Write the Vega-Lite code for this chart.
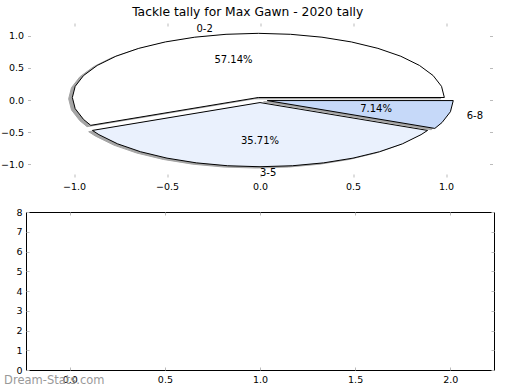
{
  "$schema": "https://vega.github.io/schema/vega-lite/v6.json",
  "padding": {"left": 0, "top": 6, "right": 0, "bottom": 0},
  "title": {"text": "Tackle tally for Max Gawn - 2020 tally", "font": "DejaVu Sans", "fontSize": 12.3, "fontWeight": "normal", "anchor": "middle", "offset": 4, "color": "black"},
  "bounds": "flush",
  "center": true,
  "spacing": 35,
  "datasets": {
    "pie": [
      {"w": "0-2", "i": 0, "x": -0.0089, "y": 0.039},
      {"w": "0-2", "i": 1, "x": 0.9911, "y": 0.039},
      {"w": "0-2", "i": 2, "x": 0.9759, "y": 0.2127},
      {"w": "0-2", "i": 3, "x": 0.9308, "y": 0.381},
      {"w": "0-2", "i": 4, "x": 0.8571, "y": 0.539},
      {"w": "0-2", "i": 5, "x": 0.7571, "y": 0.6818},
      {"w": "0-2", "i": 6, "x": 0.6339, "y": 0.805},
      {"w": "0-2", "i": 7, "x": 0.4911, "y": 0.905},
      {"w": "0-2", "i": 8, "x": 0.3331, "y": 0.9787},
      {"w": "0-2", "i": 9, "x": 0.1648, "y": 1.0238},
      {"w": "0-2", "i": 10, "x": -0.0089, "y": 1.039},
      {"w": "0-2", "i": 11, "x": -0.1826, "y": 1.0238},
      {"w": "0-2", "i": 12, "x": -0.3509, "y": 0.9787},
      {"w": "0-2", "i": 13, "x": -0.5089, "y": 0.905},
      {"w": "0-2", "i": 14, "x": -0.6517, "y": 0.805},
      {"w": "0-2", "i": 15, "x": -0.7749, "y": 0.6818},
      {"w": "0-2", "i": 16, "x": -0.8749, "y": 0.539},
      {"w": "0-2", "i": 17, "x": -0.9486, "y": 0.381},
      {"w": "0-2", "i": 18, "x": -0.9937, "y": 0.2127},
      {"w": "0-2", "i": 19, "x": -1.0089, "y": 0.039},
      {"w": "0-2", "i": 20, "x": -0.9937, "y": -0.1347},
      {"w": "0-2", "i": 21, "x": -0.9486, "y": -0.303},
      {"w": "0-2", "i": 22, "x": -0.9099, "y": -0.3949},
      {"w": "0-2", "i": 23, "x": -0.0089, "y": 0.039},
      {"w": "3-5", "i": 0, "x": 0, "y": -0.04},
      {"w": "3-5", "i": 1, "x": -0.901, "y": -0.4739},
      {"w": "3-5", "i": 2, "x": -0.866, "y": -0.54},
      {"w": "3-5", "i": 3, "x": -0.766, "y": -0.6828},
      {"w": "3-5", "i": 4, "x": -0.6428, "y": -0.806},
      {"w": "3-5", "i": 5, "x": -0.5, "y": -0.906},
      {"w": "3-5", "i": 6, "x": -0.342, "y": -0.9797},
      {"w": "3-5", "i": 7, "x": -0.1737, "y": -1.0248},
      {"w": "3-5", "i": 8, "x": 0, "y": -1.04},
      {"w": "3-5", "i": 9, "x": 0.1737, "y": -1.0248},
      {"w": "3-5", "i": 10, "x": 0.342, "y": -0.9797},
      {"w": "3-5", "i": 11, "x": 0.5, "y": -0.906},
      {"w": "3-5", "i": 12, "x": 0.6428, "y": -0.806},
      {"w": "3-5", "i": 13, "x": 0.766, "y": -0.6828},
      {"w": "3-5", "i": 14, "x": 0.866, "y": -0.54},
      {"w": "3-5", "i": 15, "x": 0.901, "y": -0.4739},
      {"w": "3-5", "i": 16, "x": 0, "y": -0.04},
      {"w": "6-8", "i": 0, "x": 0.039, "y": -0.0089},
      {"w": "6-8", "i": 1, "x": 0.94, "y": -0.4428},
      {"w": "6-8", "i": 2, "x": 0.9787, "y": -0.3509},
      {"w": "6-8", "i": 3, "x": 1.0238, "y": -0.1826},
      {"w": "6-8", "i": 4, "x": 1.039, "y": -0.0089},
      {"w": "6-8", "i": 5, "x": 0.039, "y": -0.0089}
    ],
    "labelsRight": [{"t": "0-2", "x": -0.2537, "y": 1.1114}],
    "labelsLeft": [{"t": "3-5", "x": 0, "y": -1.14}, {"t": "6-8", "x": 1.1114, "y": -0.2537}],
    "pct": [{"t": "57.14%", "x": -0.1424, "y": 0.6239}, {"t": "35.71%", "x": 0, "y": -0.64}, {"t": "7.14%", "x": 0.6239, "y": -0.1424}],
    "mark": [{"t": "Dream-Stats.com", "x": -0.345, "y": -0.557}]
  },
  "vconcat": [
    {
      "width": 465,
      "height": 154,
      "layer": [
        {
          "data": {"name": "pie"},
          "mark": {"type": "line", "fill": "#4d4d4d", "stroke": "#4d4d4d", "strokeWidth": 1, "opacity": 0.5, "xOffset": -3.7, "yOffset": 1.3},
          "encoding": {
            "x": {"field": "x", "type": "quantitative", "title": null, "scale": {"domain": [-1.25, 1.25], "nice": false, "zero": false}, "axis": {"orient": "bottom", "values": [-1, -0.5, 0, 0.5, 1], "format": ".1f"}},
            "y": {"field": "y", "type": "quantitative", "title": null, "scale": {"domain": [-1.2, 1.2], "nice": false, "zero": false}, "axis": {"orient": "left", "values": [-1, -0.5, 0, 0.5, 1], "format": ".1f"}},
            "order": {"field": "i", "type": "quantitative"},
            "detail": {"field": "w", "type": "nominal"}
          }
        },
        {
          "data": {"name": "pie"},
          "mark": {"type": "line", "stroke": "black", "strokeWidth": 1},
          "encoding": {
            "x": {"field": "x", "type": "quantitative", "title": null, "scale": {"domain": [-1.25, 1.25], "nice": false, "zero": false}, "axis": null},
            "y": {"field": "y", "type": "quantitative", "title": null, "scale": {"domain": [-1.2, 1.2], "nice": false, "zero": false}, "axis": null},
            "order": {"field": "i", "type": "quantitative"},
            "detail": {"field": "w", "type": "nominal"},
            "fill": {"field": "w", "type": "nominal", "legend": null, "scale": {"domain": ["0-2", "3-5", "6-8"], "range": ["#ffffff", "#eaf1fd", "#c6d9f9"]}}
          }
        },
        {
          "data": {"name": "labelsRight"},
          "mark": {"type": "text", "align": "right", "baseline": "middle", "font": "DejaVu Sans", "fontSize": 10, "color": "black"},
          "encoding": {
            "x": {"field": "x", "type": "quantitative", "title": null, "scale": {"domain": [-1.25, 1.25], "nice": false, "zero": false}, "axis": {"orient": "top", "labels": false, "values": [-1, -0.5, 0, 0.5, 1]}},
            "y": {"field": "y", "type": "quantitative", "title": null, "scale": {"domain": [-1.2, 1.2], "nice": false, "zero": false}, "axis": {"orient": "right", "labels": false, "values": [-1, -0.5, 0, 0.5, 1]}},
            "text": {"field": "t"}
          }
        },
        {
          "data": {"name": "labelsLeft"},
          "mark": {"type": "text", "align": "left", "baseline": "middle", "font": "DejaVu Sans", "fontSize": 10, "color": "black"},
          "encoding": {
            "x": {"field": "x", "type": "quantitative", "title": null, "scale": {"domain": [-1.25, 1.25], "nice": false, "zero": false}, "axis": null},
            "y": {"field": "y", "type": "quantitative", "title": null, "scale": {"domain": [-1.2, 1.2], "nice": false, "zero": false}, "axis": null},
            "text": {"field": "t"}
          }
        },
        {
          "data": {"name": "pct"},
          "mark": {"type": "text", "align": "center", "baseline": "middle", "font": "DejaVu Sans", "fontSize": 10, "color": "black"},
          "encoding": {
            "x": {"field": "x", "type": "quantitative", "title": null, "scale": {"domain": [-1.25, 1.25], "nice": false, "zero": false}, "axis": null},
            "y": {"field": "y", "type": "quantitative", "title": null, "scale": {"domain": [-1.2, 1.2], "nice": false, "zero": false}, "axis": null},
            "text": {"field": "t"}
          }
        }
      ],
      "resolve": {"axis": {"x": "independent", "y": "independent"}}
    },
    {
      "width": 468,
      "height": 158,
      "view": {"stroke": "black", "strokeWidth": 1},
      "layer": [
        {
          "data": {"name": "mark"},
          "mark": {"type": "text", "align": "left", "baseline": "middle", "font": "DejaVu Sans", "fontSize": 11.5, "color": "#999999"},
          "encoding": {
            "x": {"field": "x", "type": "quantitative", "title": null, "scale": {"domain": [-0.23, 2.23], "nice": false, "zero": false}, "axis": {"orient": "bottom", "values": [0, 0.5, 1, 1.5, 2], "format": ".1f"}},
            "y": {"field": "y", "type": "quantitative", "title": null, "scale": {"domain": [0, 8], "nice": false, "zero": false}, "axis": {"orient": "left", "values": [0, 1, 2, 3, 4, 5, 6, 7, 8], "format": "d"}},
            "text": {"field": "t"}
          }
        },
        {
          "data": {"name": "mark"},
          "mark": {"type": "text", "align": "left", "baseline": "middle", "font": "DejaVu Sans", "fontSize": 11.5, "opacity": 0},
          "encoding": {
            "x": {"field": "x", "type": "quantitative", "title": null, "scale": {"domain": [-0.23, 2.23], "nice": false, "zero": false}, "axis": {"orient": "top", "labels": false, "values": [0, 0.5, 1, 1.5, 2]}},
            "y": {"field": "y", "type": "quantitative", "title": null, "scale": {"domain": [0, 8], "nice": false, "zero": false}, "axis": {"orient": "right", "labels": false, "values": [0, 1, 2, 3, 4, 5, 6, 7, 8]}},
            "text": {"field": "t"}
          }
        }
      ],
      "resolve": {"axis": {"x": "independent", "y": "independent"}}
    }
  ],
  "config": {
    "font": "DejaVu Sans",
    "view": {"stroke": null},
    "axis": {"grid": false, "domain": false, "tickColor": "#bbbbbb", "tickSize": 3, "offset": -3, "tickWidth": 1, "labelFont": "DejaVu Sans", "labelFontSize": 9.5, "labelColor": "black", "labelFlush": false, "labelOverlap": false},
    "axisX": {"labelPadding": 4},
    "axisY": {"labelPadding": 4}
  }
}
